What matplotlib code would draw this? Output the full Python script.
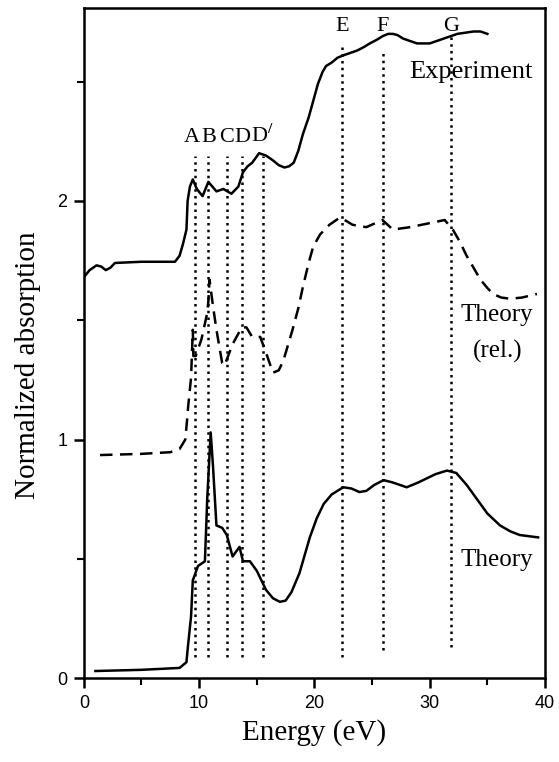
import matplotlib
matplotlib.use("Agg")
import matplotlib.pyplot as plt
from matplotlib.ticker import MultipleLocator

plt.rcParams['mathtext.fontset'] = 'stix'

# Experiment (solid, top)
exp_x = [0.0, 0.5, 1.1, 1.5, 1.9, 2.3, 2.7, 5.0, 7.9, 8.3, 8.6, 8.9, 9.0, 9.2, 9.45, 9.8, 10.3,
         10.8, 11.5, 12.1, 12.8, 13.4, 13.8, 14.2, 14.6, 15.2, 15.8, 16.4, 16.9, 17.4, 17.8,
         18.2, 18.6, 19.0, 19.5, 19.9, 20.3, 20.7, 21.0, 21.5, 22.0, 22.5, 23.1, 23.7, 24.3,
         24.8, 25.4, 25.9, 26.4, 26.8, 27.2, 27.7, 28.3, 28.9, 29.5, 30.0, 30.6, 31.2, 31.8,
         32.4, 33.1, 33.8, 34.4, 35.0]
exp_y = [1.68, 1.71, 1.73, 1.725, 1.71, 1.72, 1.74, 1.745, 1.745, 1.77, 1.82, 1.88, 2.00, 2.06,
         2.09, 2.05, 2.02, 2.08, 2.04, 2.05, 2.03, 2.06, 2.12, 2.145, 2.16, 2.20, 2.19, 2.17,
         2.15, 2.14, 2.145, 2.16, 2.21, 2.28, 2.35, 2.42, 2.49, 2.54, 2.565, 2.58, 2.60, 2.61,
         2.62, 2.63, 2.645, 2.66, 2.675, 2.69, 2.70, 2.70, 2.695, 2.68, 2.67, 2.66, 2.66,
         2.66, 2.67, 2.68, 2.69, 2.70, 2.705, 2.71, 2.71, 2.70]

# Theory (rel.) (dashed, middle)
rel_x = [1.4, 5.0, 7.5, 8.3, 8.8, 8.95, 9.05, 9.3, 9.45, 9.5, 9.7, 10.2, 10.7, 10.8, 10.9,
         11.2, 11.5, 12.0, 12.2, 12.9, 13.7, 14.1, 14.6, 15.3, 15.9, 16.4, 16.9, 17.3, 18.1,
         18.6, 19.0, 19.5, 19.9, 20.5, 21.3, 22.2, 22.8, 23.3, 24.5, 25.2, 25.9, 26.8, 28.3,
         30.3, 31.3, 32.0, 32.6, 33.2, 33.8, 34.4, 35.0, 35.5, 36.2, 37.0, 38.0, 39.3]
rel_y = [0.935, 0.94, 0.947, 0.96, 1.00, 1.08, 1.14, 1.26, 1.46, 1.35, 1.35, 1.42, 1.53, 1.58, 1.67,
         1.56, 1.46, 1.32, 1.31, 1.40, 1.47, 1.47, 1.43, 1.43, 1.35, 1.28, 1.29, 1.33, 1.46,
         1.55, 1.64, 1.74, 1.81, 1.86, 1.90, 1.93, 1.915, 1.90, 1.89, 1.905, 1.92, 1.88, 1.89,
         1.91, 1.92, 1.88, 1.83, 1.77, 1.72, 1.67, 1.635, 1.61, 1.595, 1.59, 1.595, 1.61]

# Theory (solid, bottom)
th_x = [1.0, 5.0, 8.3, 8.9, 9.0, 9.3, 9.45, 9.9, 10.5, 10.7, 11.0, 11.2, 11.5, 12.0, 12.4,
        12.9, 13.5, 13.8, 14.4, 15.0, 15.4, 15.8, 16.4, 17.0, 17.5, 18.0, 18.7, 19.6, 20.2,
        20.8, 21.5, 22.5, 23.2, 23.9, 24.5, 25.2, 26.0, 26.8, 28.0, 29.0, 30.5, 31.5, 32.3,
        33.2, 34.1, 35.0, 36.1, 37.0, 37.8, 39.4]
th_y = [0.03, 0.035, 0.043, 0.067, 0.12, 0.26, 0.41, 0.47, 0.49, 0.75, 1.03, 0.89, 0.64, 0.63, 0.60,
        0.51, 0.55, 0.49, 0.49, 0.45, 0.41, 0.37, 0.335, 0.32, 0.325, 0.36, 0.44, 0.59, 0.67,
        0.73, 0.77, 0.80, 0.795, 0.78, 0.785, 0.81, 0.83, 0.82, 0.80, 0.82, 0.855, 0.87, 0.86,
        0.81, 0.75, 0.69, 0.64, 0.615, 0.60, 0.59]

# feature markers
feat_labels = ['A', 'B', 'C', 'D', 'D$^{/}$', 'E', 'F', 'G']
feat_x = [9.6, 10.8, 12.4, 13.75, 15.5, 22.4, 25.95, 31.85]
feat_top = [2.19, 2.19, 2.19, 2.19, 2.19, 2.65, 2.63, 2.69]
feat_bot = [0.09, 0.09, 0.09, 0.09, 0.09, 0.09, 0.12, 0.13]
label_shift = [-0.25, 0.05, 0, 0, 0, 0, 0, 0]

serif = 'Liberation Serif'

fig = plt.figure(figsize=(5.59, 7.62), dpi=100)
ax = fig.add_axes([0.150, 0.110, 0.825, 0.880])

ax.plot(exp_x, exp_y, color='black', lw=1.8)
ax.plot(rel_x, rel_y, color='black', lw=1.8, linestyle=(0, (5, 3)))
ax.plot(th_x, th_y, color='black', lw=1.8)

for lab, x, t, b, dx in zip(feat_labels, feat_x, feat_top, feat_bot, label_shift):
    ax.plot([x, x], [b, t], color='black', lw=1.8, linestyle=(0, (1, 1.7)))
    ytxt = 2.225 if t < 2.5 else 2.69
    ax.text(x + dx, ytxt, lab, ha='center', va='bottom', family=serif, fontsize=16)

ax.text(33.6, 2.54, 'Experiment', ha='center', va='center', family=serif, fontsize=19)
ax.text(35.8, 1.52, 'Theory', ha='center', va='center', family=serif, fontsize=18)
ax.text(35.9, 1.37, '(rel.)', ha='center', va='center', family=serif, fontsize=18)
ax.text(35.8, 0.495, 'Theory', ha='center', va='center', family=serif, fontsize=18)

ax.set_xlim(0, 40)
ax.set_ylim(0, 2.81)
ax.xaxis.set_major_locator(MultipleLocator(10))
ax.xaxis.set_minor_locator(MultipleLocator(5))
ax.yaxis.set_major_locator(MultipleLocator(1))
ax.yaxis.set_minor_locator(MultipleLocator(0.5))
ax.tick_params(which='major', length=7, width=1.8, labelsize=13, pad=5)
ax.tick_params(which='minor', length=5, width=1.5)
for lab in ax.get_xticklabels() + ax.get_yticklabels():
    lab.set_family('Liberation Sans')
for sp in ax.spines.values():
    sp.set_linewidth(1.8)

ax.set_xlabel('Energy (eV)', family=serif, fontsize=21, labelpad=5)
ax.set_ylabel('Normalized absorption', family=serif, fontsize=21)
ax.yaxis.set_label_coords(-0.093, 0.467)

fig.savefig('out.png', dpi=100)
